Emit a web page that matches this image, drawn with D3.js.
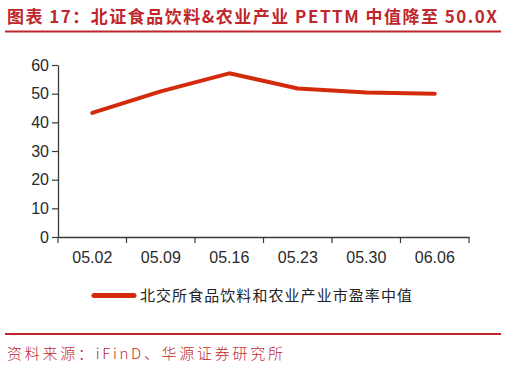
<!DOCTYPE html>
<html>
<head>
<meta charset="utf-8">
<script src="https://d3js.org/d3.v7.min.js"></script>
<style>
  body { margin: 0; background: #fff; }
  svg { display: block; }
</style>
</head>
<body>
<svg width="507" height="366"></svg>
<script>
  // data
  const dates = ["05.02", "05.09", "05.16", "05.23", "05.30", "06.06"];
  const peMedian = [43.3, 50.8, 57.1, 51.8, 50.4, 50.0];
  const yTicks = [0, 10, 20, 30, 40, 50, 60];

  const titleText = "图表 17：北证食品饮料&农业产业 PETTM 中值降至 50.0X";
  const legendText = "北交所食品饮料和农业产业市盈率中值";
  const sourceText = "资料来源：iFinD、华源证券研究所";

  const red = "#c0272d";
  const lineColor = "#d42a0c";
  const font = "Liberation Sans, Arial, sans-serif";
  const cjk = "'Noto Sans CJK SC', sans-serif";

  const svg = d3.select("svg");
  const plot = {left: 58, right: 469, top: 65, bottom: 237};

  const x = d3.scaleBand().domain(dates).range([plot.left, plot.right]);
  const y = d3.scaleLinear().domain([0, 60]).range([plot.bottom, plot.top]);

  // title, stretched to the width of the rule below it
  svg.append("text")
    .attr("x", 7).attr("y", 23)
    .attr("fill", red)
    .attr("textLength", 490)
    .attr("lengthAdjust", "spacing")
    .style("font-family", cjk)
    .style("font-size", "17px")
    .style("font-weight", "bold")
    .text(titleText);
  svg.append("line")
    .attr("x1", 5).attr("x2", 501).attr("y1", 31.5).attr("y2", 31.5)
    .attr("stroke", red).attr("stroke-width", 1.8);

  // y axis
  const yAxis = svg.append("g")
    .attr("transform", `translate(${plot.left},0)`)
    .call(d3.axisLeft(y).tickValues(yTicks).tickSize(6).tickSizeOuter(0));
  yAxis.select(".domain").attr("stroke", "#3a3a3a").attr("stroke-width", 1.3);
  yAxis.selectAll(".tick line").attr("stroke", "#3a3a3a").attr("stroke-width", 1.2);
  yAxis.selectAll(".tick text")
    .attr("x", -9)
    .attr("fill", "#2a2a2a")
    .style("font-family", font)
    .style("font-size", "16px");

  // x axis
  const xAxis = svg.append("g")
    .attr("transform", `translate(0,${plot.bottom})`)
    .call(d3.axisBottom(x).tickSize(0).tickSizeOuter(0));
  xAxis.select(".domain").attr("stroke", "#3a3a3a").attr("stroke-width", 1.3);
  xAxis.selectAll(".tick text")
    .attr("y", 26)
    .attr("dy", 0)
    .attr("fill", "#2a2a2a")
    .style("font-family", font)
    .style("font-size", "16px");
  // tick marks on band edges
  const edges = dates.map(d => x(d)).concat([x.range()[1]]);
  svg.append("g").selectAll("line")
    .data(edges)
    .join("line")
    .attr("x1", d => d).attr("x2", d => d)
    .attr("y1", plot.bottom).attr("y2", plot.bottom + 6)
    .attr("stroke", "#3a3a3a").attr("stroke-width", 1.2);

  // line
  const line = d3.line()
    .x((d, i) => x(dates[i]) + x.bandwidth() / 2)
    .y(d => y(d));
  svg.append("path")
    .datum(peMedian)
    .attr("d", line)
    .attr("fill", "none")
    .attr("stroke", lineColor)
    .attr("stroke-width", 4)
    .attr("stroke-linecap", "round")
    .attr("stroke-linejoin", "round");

  // legend
  svg.append("line")
    .attr("x1", 94).attr("x2", 134).attr("y1", 295.5).attr("y2", 295.5)
    .attr("stroke", lineColor).attr("stroke-width", 5)
    .attr("stroke-linecap", "round");
  svg.append("text")
    .attr("x", 140).attr("y", 301)
    .attr("fill", "#222")
    .attr("textLength", 272)
    .attr("lengthAdjust", "spacing")
    .style("font-family", cjk)
    .style("font-size", "15px")
    .text(legendText);

  // footer
  svg.append("line")
    .attr("x1", 5).attr("x2", 501).attr("y1", 334).attr("y2", 334)
    .attr("stroke", red).attr("stroke-width", 2);
  svg.append("text")
    .attr("x", 7).attr("y", 359)
    .attr("fill", red)
    .attr("textLength", 276)
    .attr("lengthAdjust", "spacing")
    .style("font-family", cjk)
    .style("font-size", "15px")
    .style("font-weight", 300)
    .text(sourceText);
</script>
</body>
</html>
